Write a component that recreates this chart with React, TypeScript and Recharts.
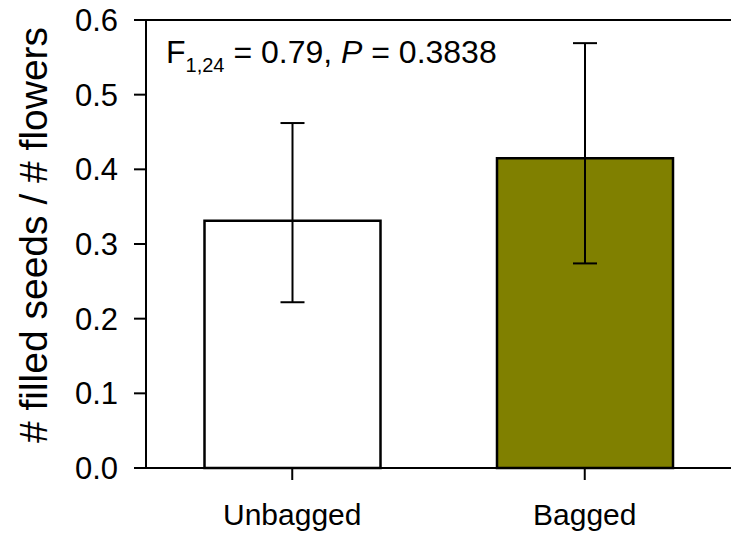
import React from 'react';
import { BarChart, Bar, XAxis, YAxis, ErrorBar, Cell, ReferenceLine, Customized } from 'recharts';

const categories = ['Unbagged', 'Bagged'];
const means = [0.331, 0.415];
const errLower = [0.109, 0.141];
const errUpper = [0.131, 0.154];
const fills = ['#ffffff', '#808000'];
const yTicks = [0, 0.1, 0.2, 0.3, 0.4, 0.5, 0.6];

const data = categories.map((c, i) => ({
  name: c,
  value: means[i],
  err: [errLower[i], errUpper[i]],
}));

const FONT = '"Liberation Sans", Arial, sans-serif';

const Annotation = () => (
  <g>
    <text x={166} y={63} fontFamily={FONT} fontSize={32} fill="#000">
      F
      <tspan fontSize={20} dy={9}>1,24</tspan>
      <tspan dy={-9}> = 0.79, </tspan>
      <tspan fontStyle="italic">P</tspan>
      <tspan> = 0.3838</tspan>
    </text>
    <text
      x={0}
      y={0}
      transform="translate(47, 235) rotate(-90)"
      textAnchor="middle"
      fontFamily={FONT}
      fontSize={39}
      fill="#000"
    >
      # filled seeds / # flowers
    </text>
  </g>
);

export default function App() {
  return (
    <div style={{ position: 'absolute', left: 0, top: 0, width: 731, height: 533, background: '#fff' }}>
      <BarChart
        width={731}
        height={533}
        data={data}
        margin={{ top: 20, right: 0, bottom: 0, left: 0 }}
        barCategoryGap="20%"
      >
        <XAxis
          dataKey="name"
          height={65}
          axisLine={{ stroke: '#000', strokeWidth: 2 }}
          tickLine={{ stroke: '#000', strokeWidth: 2 }}
          tickSize={12}
          tickMargin={24}
          tick={{ fill: '#000', fontSize: 30, fontFamily: FONT }}
        />
        <YAxis
          width={146}
          domain={[0, 0.6]}
          ticks={yTicks}
          tickFormatter={(v: number) => v.toFixed(1)}
          axisLine={{ stroke: '#000', strokeWidth: 2 }}
          tickLine={{ stroke: '#000', strokeWidth: 2 }}
          tickSize={12}
          tickMargin={16}
          tick={{ fill: '#000', fontSize: 31, fontFamily: FONT }}
        />
        <ReferenceLine y={0.6} stroke="#000" strokeWidth={2} ifOverflow="extendDomain" />
        <Bar dataKey="value" stroke="#000" strokeWidth={2.5} isAnimationActive={false}>
          {data.map((d, i) => (
            <Cell key={d.name} fill={fills[i]} />
          ))}
          <ErrorBar dataKey="err" width={12} stroke="#000" strokeWidth={2} direction="y" />
        </Bar>
        <Customized component={Annotation} />
      </BarChart>
    </div>
  );
}
